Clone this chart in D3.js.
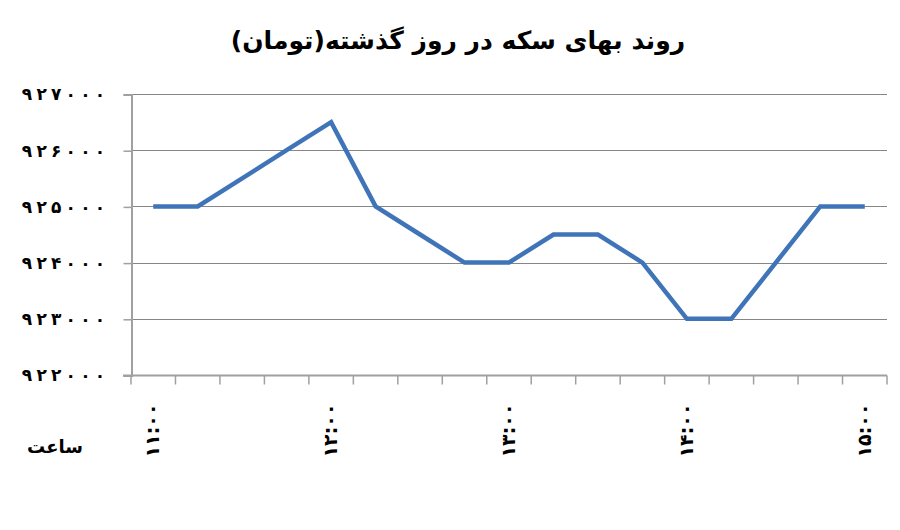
<!DOCTYPE html>
<html>
<head>
<meta charset="utf-8">
<script src="https://cdn.jsdelivr.net/npm/d3@7"></script>
<style>
  body { margin: 0; background: #fff; }
  text { font-family: "DejaVu Sans", sans-serif; }
</style>
</head>
<body>
<div id="chart"></div>
<script>
// 15-minute steps from 11:00 to 15:00
const times = ["11:00","11:15","11:30","11:45","12:00","12:15","12:30","12:45","13:00",
               "13:15","13:30","13:45","14:00","14:15","14:30","14:45","15:00"]
const prices = [925000, 925000, 925500, 926000, 926500, 925000, 924500, 924000, 924000,
                924500, 924500, 924000, 923000, 923000, 924000, 925000, 925000]
const yTicks = [922000, 923000, 924000, 925000, 926000, 927000]
const shownTimes = ["11:00", "12:00", "13:00", "14:00", "15:00"]
const title = "روند بهای سکه در روز گذشته(تومان)"
const xTitle = "ساعت"

const fa = s => String(s).replace(/\d/g, d => "۰۱۲۳۴۵۶۷۸۹"[d])

const width = 900
const height = 530
const margin = {top: 94, right: 13, bottom: 155, left: 131}

const svg = d3.select("#chart")
    .append("svg")
    .attr("width", width)
    .attr("height", height)

const x = d3.scaleBand()
    .domain(times)
    .range([margin.left, width - margin.right])
    .padding(0)

const y = d3.scaleLinear()
    .domain([922000, 927000])
    .range([height - margin.bottom, margin.top])

// gridlines
svg.append("g")
    .attr("stroke", "#868686")
    .attr("stroke-width", 1)
    .selectAll("line")
    .data(yTicks.slice(1))
    .join("line")
    .attr("x1", margin.left)
    .attr("x2", width - margin.right)
    .attr("y1", d => Math.round(y(d)) + 0.5)
    .attr("y2", d => Math.round(y(d)) + 0.5)

// y axis
const yAxis = svg.append("g")
    .attr("transform", `translate(${margin.left + 0.5},0.5)`)
    .call(d3.axisLeft(y).tickValues(yTicks).tickSize(8).tickFormat(""))
yAxis.select(".domain").attr("stroke", "#a0a0a0").attr("stroke-width", 2)
yAxis.selectAll(".tick line").attr("stroke", "#a0a0a0").attr("stroke-width", 1.5)
// digits spaced out one by one (letter-spacing is ignored for this script)
yAxis.selectAll(".tick text")
    .attr("x", null)
    .attr("text-anchor", "middle")
    .attr("fill", "#000")
    .attr("font-size", 17)
    .attr("font-weight", "bold")
    .selectAll("tspan")
    .data(d => Array.from(fa(d)))
    .join("tspan")
    .attr("x", (c, i) => -104.5 + i * 14.6)
    .text(c => c)

// x axis, ticks between categories
const xAxis = svg.append("g")
    .attr("transform", `translate(0,${y(922000) + 0.5})`)
xAxis.append("line")
    .attr("x1", margin.left - 8)
    .attr("x2", width - margin.right)
    .attr("stroke", "#a0a0a0")
    .attr("stroke-width", 2)
xAxis.selectAll("line.tk")
    .data(times.concat(["end"]))
    .join("line")
    .attr("class", "tk")
    .attr("x1", (d, i) => i < times.length ? x(d) : x.range()[1])
    .attr("x2", (d, i) => i < times.length ? x(d) : x.range()[1])
    .attr("y1", 0)
    .attr("y2", 9)
    .attr("stroke", "#a0a0a0")
    .attr("stroke-width", 1.5)
xAxis.selectAll("text")
    .data(shownTimes)
    .join("text")
    .attr("transform", d => `translate(${x(d) + x.bandwidth() / 2 + 6},${28}) rotate(-90)`)
    .attr("text-anchor", "end")
    .attr("font-size", 19)
    .attr("font-weight", "bold")
    .attr("letter-spacing", 3)
    .attr("direction", "ltr")
    .text(d => fa(d))

// line
const line = d3.line()
    .x((d, i) => x(times[i]) + x.bandwidth() / 2)
    .y(d => y(d))

svg.append("path")
    .datum(prices)
    .attr("fill", "none")
    .attr("stroke", "#3f74b8")
    .attr("stroke-width", 4.5)
    .attr("stroke-linejoin", "miter")
    .attr("d", line)

// titles
svg.append("text")
    .attr("x", 458)
    .attr("y", 49)
    .attr("text-anchor", "middle")
    .attr("font-size", 25)
    .attr("font-weight", "bold")
    .attr("direction", "rtl")
    .text(title)

svg.append("text")
    .attr("x", 55)
    .attr("y", 453)
    .attr("text-anchor", "middle")
    .attr("font-size", 18)
    .attr("font-weight", "bold")
    .attr("direction", "rtl")
    .text(xTitle)
</script>
</body>
</html>
